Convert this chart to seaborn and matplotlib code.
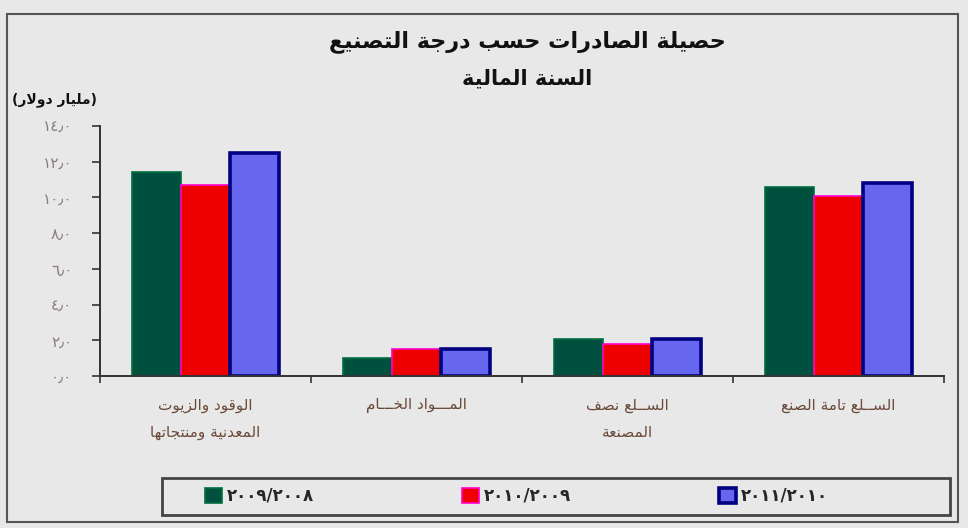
import matplotlib
matplotlib.use("Agg")
import matplotlib.pyplot as plt
from matplotlib.patches import Patch, Rectangle
import pandas as pd
import seaborn as sns

# ── Data ──────────────────────────────────────────────────────────────────
CATEGORIES = [
    "الوقود والزيوت\nالمعدنية ومنتجاتها",
    "المـــواد الخـــام",
    "الســلع نصف\nالمصنعة",
    "الســلع تامة الصنع",
]
YEARS = ["٢٠٠٩/٢٠٠٨", "٢٠١٠/٢٠٠٩", "٢٠١١/٢٠١٠"]
VALUES_2008 = [11.4, 1.0, 2.1, 10.6]
VALUES_2009 = [10.7, 1.5, 1.8, 10.1]
VALUES_2010 = [12.5, 1.5, 2.1, 10.8]
Y_TICKS = [0, 2, 4, 6, 8, 10, 12, 14]

TITLE = "حصيلة الصادرات حسب درجة التصنيع"
SUBTITLE = "السنة المالية"
Y_UNIT = "(مليار دولار)"

FILLS = ["#00503f", "#ee0000", "#6666ee"]
EDGES = ["#007040", "#ff00cc", "#000080"]
EDGE_W = [1.2, 1.2, 2.6]
BG = "#e8e8e8"

# ── Minimal Arabic shaping (matplotlib has no bidi / joining) ─────────────
DUAL = {"ب": 0xFE8F, "ت": 0xFE95, "ث": 0xFE99, "ج": 0xFE9D, "ح": 0xFEA1,
        "خ": 0xFEA5, "س": 0xFEB1, "ش": 0xFEB5, "ص": 0xFEB9, "ض": 0xFEBD,
        "ط": 0xFEC1, "ظ": 0xFEC5, "ع": 0xFEC9, "غ": 0xFECD, "ف": 0xFED1,
        "ق": 0xFED5, "ك": 0xFED9, "ل": 0xFEDD, "م": 0xFEE1, "ن": 0xFEE5,
        "ه": 0xFEE9, "ي": 0xFEF1}
RIGHT = {"ا": 0xFE8D, "د": 0xFEA9, "ذ": 0xFEAB, "ر": 0xFEAD, "ز": 0xFEAF,
         "و": 0xFEED, "ة": 0xFE93, "ى": 0xFEEF}
TATWEEL = "\u0640"


def joins_next(c):
    return c in DUAL or c == TATWEEL


def joins_prev(c):
    return c in DUAL or c in RIGHT or c == TATWEEL


def shape_line(text):
    out, i, n = [], 0, len(text)
    while i < n:
        c = text[i]
        jp = i > 0 and joins_next(text[i - 1])
        if c == "ل" and i + 1 < n and text[i + 1] == "ا":
            out.append(chr(0xFEFC if jp else 0xFEFB))
            i += 2
            continue
        jn = i + 1 < n and joins_prev(text[i + 1])
        if c in DUAL:
            off = 3 if (jp and jn) else 1 if jp else 2 if jn else 0
            out.append(chr(DUAL[c] + off))
        elif c in RIGHT:
            out.append(chr(RIGHT[c] + (1 if jp else 0)))
        else:
            out.append(c)
        i += 1
    return "".join(out)[::-1].translate(str.maketrans("()", ")("))


def ar(text):
    return "\n".join(shape_line(line) for line in text.split("\n"))


def ar_num(v):
    digits = "٠١٢٣٤٥٦٧٨٩"
    return "".join(digits[int(d)] for d in str(int(v))) + "٫٠"


# ── Long-form table for seaborn ───────────────────────────────────────────
df = pd.DataFrame({
    "cat": CATEGORIES * 3,
    "year": [y for y in YEARS for _ in CATEGORIES],
    "val": VALUES_2008 + VALUES_2009 + VALUES_2010,
})

sns.set_theme(style="white")
plt.rcParams["font.family"] = ["DejaVu Sans"]

fig = plt.figure(figsize=(9.68, 5.28), dpi=100, facecolor=BG)
ax = fig.add_axes([100 / 968, 1 - 376 / 528, 844 / 968, 250 / 528])
ax.set_facecolor(BG)

sns.barplot(data=df, x="cat", y="val", hue="year", hue_order=YEARS,
            palette=FILLS, width=0.7, saturation=1, ax=ax, legend=False)
for cont, ec, lw in zip(ax.containers, EDGES, EDGE_W):
    for bar in cont:
        bar.set_edgecolor(ec)
        bar.set_linewidth(lw)

ax.set_xlim(-0.5, 3.5)
ax.set_ylim(0, 14)
ax.set_yticks(Y_TICKS)
ax.set_yticklabels([ar_num(v) for v in Y_TICKS], color="#8a7c7c", fontsize=11)
ax.set_xticks(range(len(CATEGORIES)))
ax.set_xticklabels([ar(c) for c in CATEGORIES], color="#6b4a3a", fontsize=11,
                   linespacing=2.0, va="top")
ax.set_xticks([-0.5, 0.5, 1.5, 2.5, 3.5], minor=True)
ax.tick_params(axis="x", which="major", bottom=True, length=0, pad=16)
ax.tick_params(axis="x", which="minor", bottom=True, length=5, width=1.2,
               color="#333333", direction="out")
ax.tick_params(axis="y", left=True, length=6, width=1.2, color="#333333",
               direction="out", pad=14)
ax.set_xlabel("")
ax.set_ylabel("")
for side in ["top", "right"]:
    ax.spines[side].set_visible(False)
for side in ["left", "bottom"]:
    ax.spines[side].set_color("#333333")
    ax.spines[side].set_linewidth(1.4)

# ── Titles and unit ───────────────────────────────────────────────────────
fig.text(527 / 968, 1 - 42 / 528, ar(TITLE), ha="center", va="center",
         fontsize=16, fontweight="bold", color="#111111")
fig.text(527 / 968, 1 - 78 / 528, ar(SUBTITLE), ha="center", va="center",
         fontsize=15, fontweight="bold", color="#111111")
fig.text(55 / 968, 1 - 100 / 528, ar(Y_UNIT), ha="center", va="center",
         fontsize=10, fontweight="bold", color="#111111")

# ── Legend ────────────────────────────────────────────────────────────────
handles = [Patch(facecolor=f, edgecolor=e, linewidth=w)
           for f, e, w in zip(FILLS, EDGES, EDGE_W)]
leg = fig.legend(handles, YEARS, ncol=3, loc="center left",
                 bbox_to_anchor=(190 / 968, 1 - 496 / 528),
                 frameon=False, handlelength=1.0, handleheight=1.0,
                 handletextpad=0.3, columnspacing=8.9,
                 prop={"size": 12, "weight": "bold"})
fig.patches.append(Rectangle((162 / 968, 1 - 515 / 528), 788 / 968, 37 / 528,
                             transform=fig.transFigure, fill=False,
                             edgecolor="#444444", linewidth=2))

# outer frame of the picture
fig.patches.append(Rectangle((7 / 968, 1 - 522 / 528), 951 / 968, 508 / 528,
                             transform=fig.transFigure, fill=False,
                             edgecolor="#555555", linewidth=1.5))

fig.savefig("out.png", dpi=100, facecolor=BG)
